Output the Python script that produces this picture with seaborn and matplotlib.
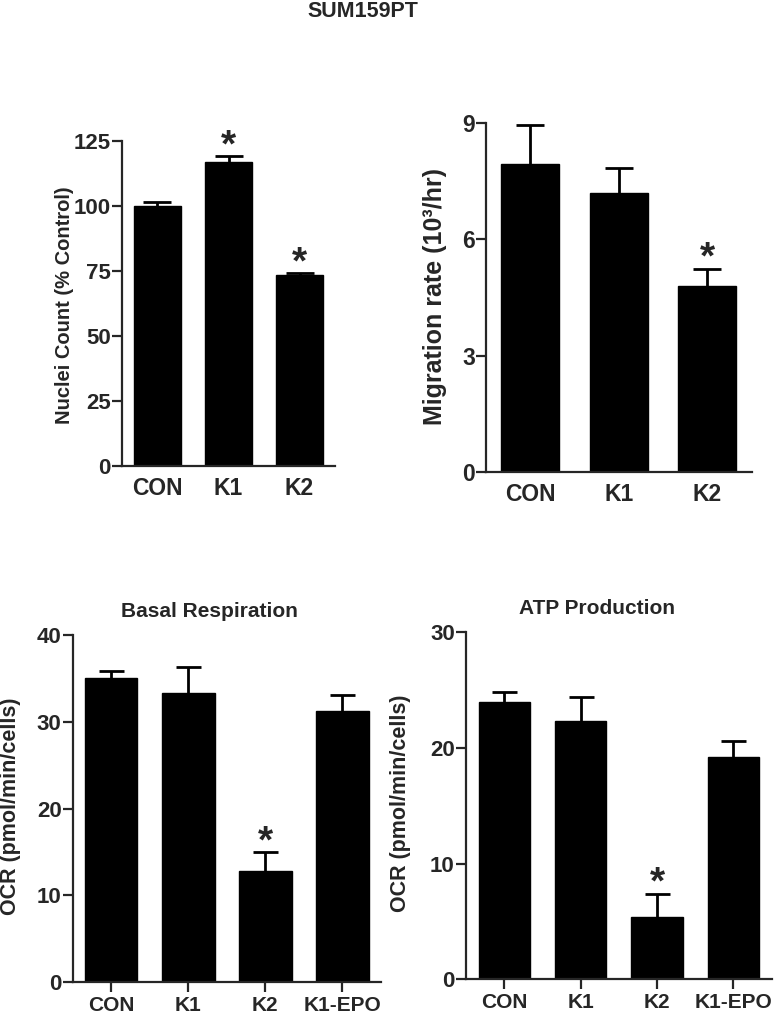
import numpy as np
import pandas as pd
import matplotlib
matplotlib.use("Agg")
import matplotlib.pyplot as plt
import seaborn as sns

# ---------------- data ----------------
cats_top = ["CON", "K1", "K2"]
nuclei_vals = [100.0, 117.0, 73.5]
nuclei_err = [1.5, 2.0, 0.5]
nuclei_sig = [False, True, True]

migr_vals = [7.95, 7.2, 4.8]
migr_err = [1.0, 0.65, 0.45]
migr_sig = [False, False, True]

cats_bot = ["CON", "K1", "K2", "K1-EPO"]
basal_vals = [35.0, 33.3, 12.8, 31.2]
basal_err = [0.8, 3.0, 2.2, 1.9]
basal_sig = [False, False, True, False]

atp_vals = [24.0, 22.3, 5.4, 19.2]
atp_err = [0.8, 2.1, 2.0, 1.4]
atp_sig = [False, False, True, False]

sns.set_style("ticks")
plt.rcParams["font.family"] = ["Liberation Sans", "DejaVu Sans"]
plt.rcParams["font.weight"] = "bold"

fig = plt.figure(figsize=(7.8, 10.28), dpi=100)


def panel(rect, cats, vals, errs, sig, ylim, yticks, ylabel, width,
          title=None, title_x=0.5, xticks_out=False, tick_fs=15, xtick_fs=16,
          lab_fs=14, lab_xy=(-0.2, 0.5), capsize=9, star_off=0):
    ax = fig.add_axes(rect)
    df = pd.DataFrame({"cat": cats, "val": vals})
    sns.barplot(data=df, x="cat", y="val", color="black", saturation=1,
                width=width, errorbar=None, ax=ax, edgecolor="black")
    pos = np.arange(len(cats))
    eb = ax.errorbar(pos, vals, yerr=[np.zeros(len(vals)), errs], fmt="none",
                     ecolor="black", elinewidth=2, capsize=capsize, capthick=2)
    # only the upper cap is visible (one-sided SEM bars)
    eb[1][0].set_visible(False)
    for i, (v, e, s) in enumerate(zip(vals, errs, sig)):
        if s:
            ax.annotate("*", xy=(i, v + e), xytext=(0, star_off),
                        textcoords="offset points", ha="center", va="baseline",
                        fontsize=28, fontweight="bold")
    ax.set_xlim(-0.5, len(cats) - 0.5)
    ax.set_ylim(*ylim)
    ax.set_yticks(yticks)
    sns.despine(ax=ax)
    for sp in ("left", "bottom"):
        ax.spines[sp].set_linewidth(1.6)
    ax.tick_params(axis="y", length=7, width=1.6, labelsize=tick_fs, pad=1)
    if xticks_out:
        ax.tick_params(axis="x", length=7, width=1.6, labelsize=xtick_fs, pad=3)
    else:
        ax.tick_params(axis="x", length=0, labelsize=xtick_fs, pad=8)
    ax.set_xlabel("")
    ax.set_ylabel(ylabel, fontsize=lab_fs, fontweight="bold")
    ax.yaxis.set_label_coords(*lab_xy)
    for t in ax.get_xticklabels() + ax.get_yticklabels():
        t.set_fontweight("bold")
    if title:
        ax.set_title(title, fontsize=15, fontweight="bold", x=title_x, pad=13)
    return ax


panel([0.1564, 0.5470, 0.2731, 0.3161], cats_top, nuclei_vals, nuclei_err,
      nuclei_sig, (0, 125), [0, 25, 50, 75, 100, 125],
      "Nuclei Count (% Control)", 0.664, tick_fs=16, xtick_fs=16.5,
      lab_fs=14.5, lab_xy=(-0.225, 0.494), capsize=10)

panel([0.6231, 0.5411, 0.3406, 0.3389], cats_top, migr_vals, migr_err,
      migr_sig, (0, 9), [0, 3, 6, 9],
      "Migration rate (10³/hr)", 0.655, tick_fs=16.5, xtick_fs=16.5,
      lab_fs=18, lab_xy=(-0.145, 0.503), capsize=10)

panel([0.0932, 0.0445, 0.3953, 0.3378], cats_bot, basal_vals, basal_err,
      basal_sig, (0, 40), [0, 10, 20, 30, 40],
      "OCR (pmol/min/cells)", 0.68, title="Basal Respiration",
      title_x=0.445, xticks_out=True, tick_fs=16, xtick_fs=15,
      lab_fs=15.5, lab_xy=(-0.168, 0.508), capsize=9)

panel([0.5974, 0.0474, 0.3919, 0.3375], cats_bot, atp_vals, atp_err,
      atp_sig, (0, 30), [0, 10, 20, 30],
      "OCR (pmol/min/cells)", 0.67, title="ATP Production",
      title_x=0.4275, xticks_out=True, tick_fs=16, xtick_fs=15,
      lab_fs=15.5, lab_xy=(-0.18, 0.508), capsize=9)

fig.text(363 / 780, 1 - 11.5 / 1028, "SUM159PT", ha="center", va="center",
         fontsize=15.5, fontweight="bold")

fig.savefig("out.png", dpi=100)
